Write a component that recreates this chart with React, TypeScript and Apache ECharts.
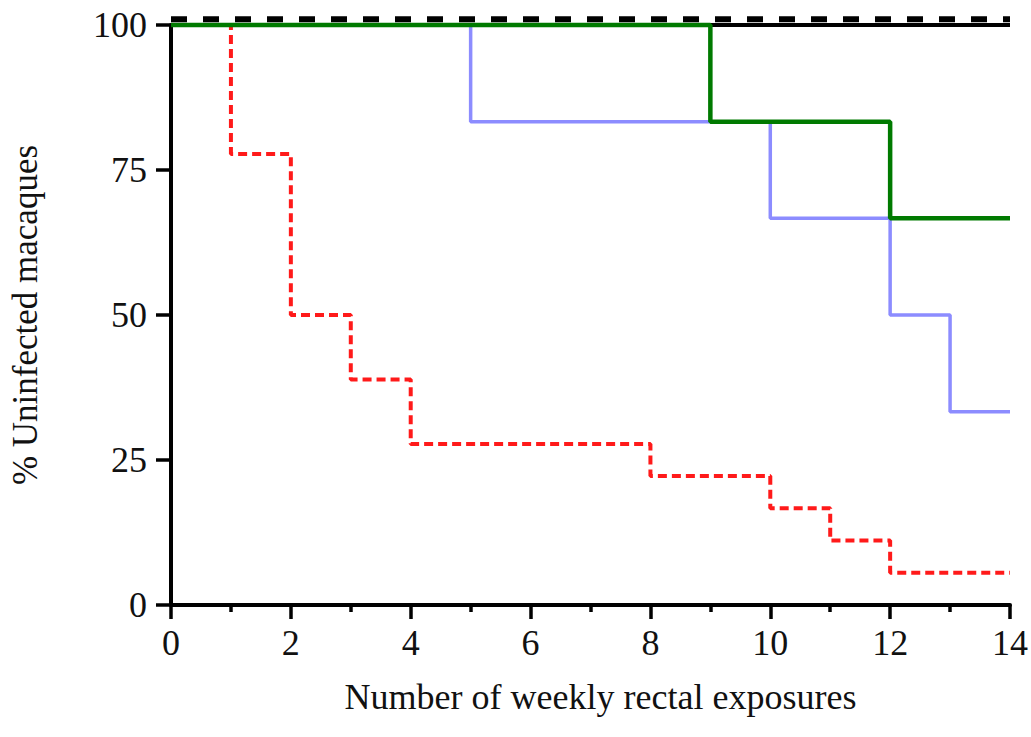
import React, { useEffect, useRef } from "react";
import * as echarts from "echarts";

const xTicks = [0, 2, 4, 6, 8, 10, 12, 14];
const yTicks = [0, 25, 50, 75, 100];

const controlSolid: [number, number][] = [[0, 100], [14, 100]];
const controlDashed: [number, number][] = [[0, 101], [14, 101]];
const greenGroup: [number, number][] = [[0, 100], [9, 83.33], [12, 66.67], [14, 66.67]];
const blueGroup: [number, number][] = [[0, 100], [5, 83.33], [10, 66.67], [12, 50], [13, 33.33], [14, 33.33]];
const redGroup: [number, number][] = [
  [0, 100], [1, 77.78], [2, 50], [3, 38.89], [4, 27.78], [8, 22.22], [10, 16.67], [11, 11.11], [12, 5.56], [14, 5.56],
];

const FONT = "'Liberation Serif', 'Times New Roman', serif";

export default function App() {
  const ref = useRef<HTMLDivElement>(null);
  useEffect(() => {
    if (!ref.current) return;
    const chart = echarts.init(ref.current, undefined, { renderer: "svg" });
    const mk = (name: string, data: [number, number][], color: string, width: number, type: any, z: number) => ({
      name,
      type: "line",
      step: "end",
      data,
      showSymbol: false,
      clip: false,
      z,
      lineStyle: { color, width, type },
    });
    chart.setOption({
      animation: false,
      backgroundColor: "#ffffff",
      grid: { left: 171, right: 13, top: 25, bottom: 132 },
      xAxis: {
        type: "value",
        min: 0,
        max: 14,
        interval: 2,
        name: "Number of weekly rectal exposures",
        nameLocation: "middle",
        nameGap: 74,
        nameTextStyle: { fontFamily: FONT, fontSize: 36, color: "#111", padding: [0, 0, 0, 20] },
        axisLine: { onZero: false, lineStyle: { color: "#000", width: 4 } },
        axisTick: { inside: false, length: 14, lineStyle: { color: "#000", width: 3.5 } },
        minorTick: { show: true, splitNumber: 2, length: 7, lineStyle: { color: "#000", width: 3.5 } },
        axisLabel: {
          fontFamily: FONT,
          fontSize: 36,
          color: "#111",
          margin: 20,
          formatter: (v: number) => (xTicks.includes(v) ? String(v) : ""),
        },
        splitLine: { show: false },
      },
      yAxis: {
        type: "value",
        min: 0,
        max: 100,
        interval: 25,
        name: "% Uninfected macaques",
        nameLocation: "middle",
        nameGap: 128,
        nameTextStyle: { fontFamily: FONT, fontSize: 35, color: "#111" },
        axisLine: { onZero: false, lineStyle: { color: "#000", width: 4 } },
        axisTick: { inside: false, length: 15, lineStyle: { color: "#000", width: 3.5 } },
        axisLabel: {
          fontFamily: FONT,
          fontSize: 36,
          color: "#111",
          margin: 24,
          formatter: (v: number) => (yTicks.includes(v) ? String(v) : ""),
        },
        splitLine: { show: false },
      },
      series: [
        mk("Control", controlSolid, "#000000", 4, "solid", 1),
        mk("Group 3", redGroup, "#ff1a1a", 4, [9, 5], 2),
        mk("Group 2", blueGroup, "#8c8cff", 3.5, "solid", 3),
        mk("Group 1", greenGroup, "#007a00", 4.5, "solid", 4),
        mk("Control 2", controlDashed, "#000000", 6, [16, 16], 5),
      ],
    });
    return () => chart.dispose();
  }, []);
  return (
    <div
      ref={ref}
      style={{ position: "fixed", left: 0, top: 0, width: 1031, height: 737, background: "#fff" }}
    />
  );
}
